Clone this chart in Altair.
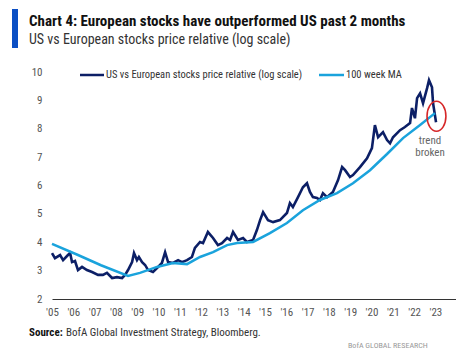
import altair as alt
import pandas as pd

# ---- data ----
rel_year = [2005.00, 2005.14, 2005.38, 2005.52, 2005.75, 2005.85, 2005.94, 2006.08, 2006.22, 2006.41,
            2006.64, 2006.88, 2007.16, 2007.39, 2007.58, 2007.82, 2008.05, 2008.29, 2008.43, 2008.57,
            2008.76, 2008.85, 2008.99, 2009.08, 2009.23, 2009.37, 2009.51, 2009.74, 2009.93, 2010.16,
            2010.31, 2010.45, 2010.68, 2010.92, 2011.10, 2011.34, 2011.57, 2011.71, 2011.95, 2012.09,
            2012.32, 2012.56, 2012.79, 2012.98, 2013.22, 2013.36, 2013.50, 2013.73, 2013.97, 2014.15,
            2014.44, 2014.62, 2014.77, 2014.91, 2015.14, 2015.38, 2015.70, 2016.03, 2016.17, 2016.31,
            2016.55, 2016.78, 2016.97, 2017.11, 2017.25, 2017.44, 2017.58, 2017.72, 2017.91, 2018.19,
            2018.43, 2018.62, 2018.76, 2018.99, 2019.13, 2019.46, 2019.79, 2020.02, 2020.16, 2020.31,
            2020.54, 2020.73, 2020.87, 2021.01, 2021.34, 2021.57, 2021.81, 2021.90, 2022.04, 2022.14,
            2022.28, 2022.42, 2022.61, 2022.70, 2022.84, 2022.89, 2023.03]
rel_value = [3.62, 3.44, 3.55, 3.37, 3.55, 3.62, 3.30, 3.34, 3.02, 3.13,
             3.02, 2.95, 2.85, 2.85, 2.92, 2.74, 2.77, 2.74, 2.85, 3.02,
             3.30, 3.62, 3.37, 3.48, 3.30, 3.20, 3.02, 2.95, 3.09, 3.27,
             3.65, 3.30, 3.27, 3.37, 3.30, 3.37, 3.48, 3.80, 4.01, 3.97,
             4.36, 4.15, 3.90, 3.97, 4.15, 4.08, 4.36, 4.08, 4.15, 4.01,
             4.08, 4.43, 4.78, 5.06, 4.78, 4.71, 4.78, 5.03, 5.38, 5.24,
             5.59, 5.94, 6.08, 5.77, 5.59, 5.56, 5.49, 5.73, 5.59, 5.77,
             6.19, 6.65, 6.54, 6.30, 6.37, 6.65, 6.96, 7.32, 8.13, 7.70,
             7.88, 7.60, 7.49, 7.70, 7.95, 8.06, 8.20, 8.73, 8.37, 9.08,
             9.25, 8.90, 9.43, 9.71, 9.46, 8.90, 8.23]

ma_year = [2005.00, 2006.22, 2007.30, 2008.57, 2009.13, 2009.93, 2010.68, 2011.34, 2011.95, 2012.56,
           2013.22, 2013.69, 2014.44, 2015.23, 2016.03, 2016.78, 2017.58, 2018.38, 2019.13, 2019.93,
           2020.73, 2021.48, 2022.28, 2022.98]
ma_value = [3.94, 3.55, 3.19, 2.81, 2.92, 3.13, 3.27, 3.23, 3.48, 3.65,
            3.90, 3.97, 4.01, 4.32, 4.68, 5.13, 5.49, 5.73, 6.08, 6.54,
            7.11, 7.67, 8.13, 8.55]

tick_years = list(range(2005, 2024))
y_ticks = [2, 3, 4, 5, 6, 7, 8, 9, 10]

circle_year = [2023.05]
circle_value = [8.44]

series_names = ["US vs European stocks price relative (log scale)", "100 week MA"]
title_text = "Chart 4: European stocks have outperformed US past 2 months"
subtitle_text = "US vs European stocks price relative (log scale)"
annot_lines = ["trend", "broken"]
source_bold = "Source:"
source_rest = "BofA Global Investment Strategy, Bloomberg."
footer_text = "BofA GLOBAL RESEARCH"

DARK = "#0c1f66"
LIGHT = "#1aa3dc"
FONT = "Liberation Sans Narrow, Arial Narrow, Roboto Condensed, DejaVu Sans Condensed, sans-serif"

rel_df = pd.DataFrame({"year": rel_year, "value": rel_value})
ma_df = pd.DataFrame({"year": ma_year, "value": ma_value})
circ_df = pd.DataFrame({"year": circle_year, "value": circle_value})

W, H = 404, 227
xscale = alt.Scale(domain=[2005, 2005 + W / 21.3], nice=False, zero=False)
yscale = alt.Scale(domain=[2, 10], nice=False, zero=False)

xaxis = alt.Axis(values=tick_years, labelExpr="\"'\" + substring(toString(datum.value), 2, 4)",
                 ticks=False, grid=False, domain=True, domainColor="#333333", domainWidth=1.2,
                 labelColor="#555555", labelFontSize=11, labelFont=FONT, labelPadding=7,
                 title=None, labelFlush=False, labelOverlap=False)
yaxis = alt.Axis(values=y_ticks, ticks=False, grid=False, domain=False,
                 labelColor="#555555", labelFontSize=11, labelFont=FONT, labelPadding=10,
                 title=None, labelOverlap=False)

X = alt.X("year:Q", scale=xscale, axis=xaxis)
Y = alt.Y("value:Q", scale=yscale, axis=yaxis)

rel_line = alt.Chart(rel_df).mark_line(color=DARK, strokeWidth=2.6).encode(x=X, y=Y)
ma_line = alt.Chart(ma_df).mark_line(color=LIGHT, strokeWidth=2.5).encode(x=X, y=Y)
ellipse = alt.Chart(circ_df).mark_point(
    shape="M0,-1 A0.63,1 0 1,1 0,1 A0.63,1 0 1,1 0,-1 Z",
    size=900, filled=False, stroke="#d62728", strokeWidth=1.6, opacity=1,
).encode(x=X, y=Y)

one = alt.Data(values=[{}])

def txt(text, x, y, size, color="#333333", weight="normal", align="left", baseline="middle"):
    return alt.Chart(one).mark_text(text=text, fontSize=size, font=FONT, color=color,
                                    fontWeight=weight, align=align, baseline=baseline).encode(
        x=alt.value(x), y=alt.value(y))

def rule(x1, x2, y, color, w):
    return alt.Chart(one).mark_rule(color=color, strokeWidth=w).encode(
        x=alt.value(x1), x2=alt.value(x2), y=alt.value(y))

bar = alt.Chart(one).mark_rect(color="#0b4fc4").encode(
    x=alt.value(-40), x2=alt.value(-34), y=alt.value(-63), y2=alt.value(-24))

layers = [
    rel_line,
    ma_line,
    ellipse,
    bar,
    txt(title_text, -23, -46, 15, "#111111", "bold", baseline="alphabetic"),
    txt(subtitle_text, -23, -28, 14, "#333333", baseline="alphabetic"),
    rule(28, 52, 3, DARK, 2.5),
    txt(series_names[0], 54, 3, 10.5),
    rule(267, 292, 3, LIGHT, 2.5),
    txt(series_names[1], 294, 3, 10.5),
    txt(annot_lines[0], 378, 69, 11, "#666666", align="center"),
    txt(annot_lines[1], 378, 81, 11, "#666666", align="center"),
    txt(source_bold, -23, 261, 11, "#111111", "bold"),
    txt(source_rest, 14, 261, 11, "#333333"),
    txt(footer_text, 296, 278, 8, "#999999", baseline="bottom"),
]

chart = alt.layer(*layers).properties(
    width=W, height=H,
    autosize=alt.AutoSizeParams(type="none"),
    padding={"left": 52, "top": 72, "right": 0, "bottom": 51},
    background="white",
).configure_view(stroke=None)

chart.save("out.html", embed_options={"renderer": "svg", "actions": False})
